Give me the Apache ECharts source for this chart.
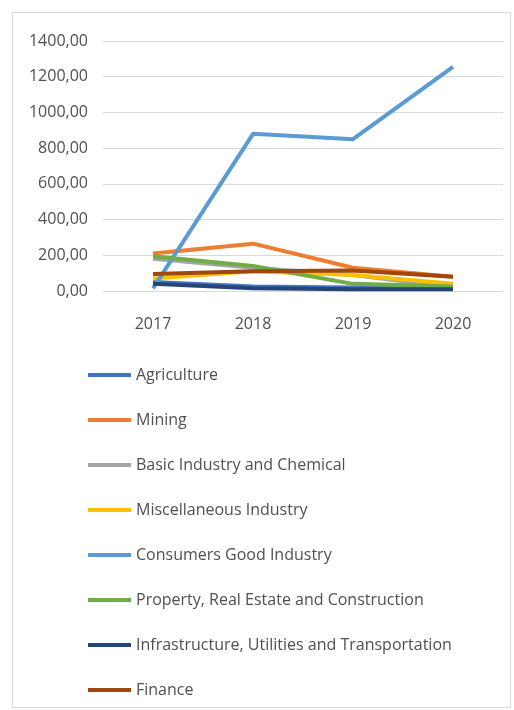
<!DOCTYPE html>
<html>
<head>
<meta charset="utf-8">
<script src="https://cdn.jsdelivr.net/npm/echarts@6/dist/echarts.min.js"></script>
<style>
  html, body { margin: 0; padding: 0; background: #fff; }
  #chart { width: 514px; height: 710px; }
</style>
</head>
<body>
<div id="chart"></div>
<script>
  // years on the x axis
  var years = ['2017', '2018', '2019', '2020'];

  // values per sector
  var agriculture = [50, 25, 20, 15];
  var mining = [210, 265, 130, 80];
  var basicIndustry = [180, 130, 90, 20];
  var miscIndustry = [70, 110, 90, 40];
  var consumersGood = [15, 880, 850, 1255];
  var property = [195, 140, 40, 25];
  var infrastructure = [40, 15, 10, 10];
  var finance = [95, 110, 115, 80];

  var seriesNames = [
    'Agriculture', 'Mining', 'Basic Industry and Chemical', 'Miscellaneous Industry',
    'Consumers Good Industry', 'Property, Real Estate and Construction',
    'Infrastructure, Utilities and Transportation', 'Finance'
  ];
  var seriesData = [agriculture, mining, basicIndustry, miscIndustry,
    consumersGood, property, infrastructure, finance];
  var colors = ['#4472C4', '#ED7D31', '#A5A5A5', '#FFC000', '#5B9BD5', '#70AD47', '#264478', '#9E480E'];

  var series = seriesNames.map(function (name, i) {
    return {
      name: name,
      type: 'line',
      data: seriesData[i],
      symbol: 'none',
      lineStyle: {width: 4, color: colors[i]},
      itemStyle: {color: colors[i]}
    };
  });

  var option = {
    animation: false,
    graphic: [{
      type: 'rect',
      shape: {x: 12.5, y: 12.5, width: 498, height: 695},
      style: {fill: 'none', stroke: '#d9d9d9', lineWidth: 1}
    }],
    grid: {left: 103, right: 11, top: 41, height: 250},
    xAxis: {
      type: 'category',
      data: years,
      axisLine: {show: false},
      axisTick: {show: false},
      axisLabel: {color: '#505050', fontSize: 16, margin: 25, fontFamily: 'Open Sans'}
    },
    yAxis: {
      type: 'value',
      min: 0,
      max: 1400,
      interval: 200,
      axisLabel: {
        color: '#505050', fontSize: 16, margin: 15, fontFamily: 'Open Sans',
        formatter: function (v) { return v.toFixed(2).replace('.', ','); }
      },
      splitLine: {lineStyle: {color: '#d9d9d9'}}
    },
    legend: {
      orient: 'vertical',
      left: 88,
      top: 367,
      padding: 0,
      itemWidth: 43,
      itemHeight: 4,
      itemGap: 29,
      icon: 'rect',
      textStyle: {color: '#505050', fontSize: 16, fontFamily: 'Open Sans'},
      data: seriesNames
    },
    series: series
  };

  var myChart = echarts.init(document.getElementById('chart'));
  myChart.setOption(option);
</script>
</body>
</html>
